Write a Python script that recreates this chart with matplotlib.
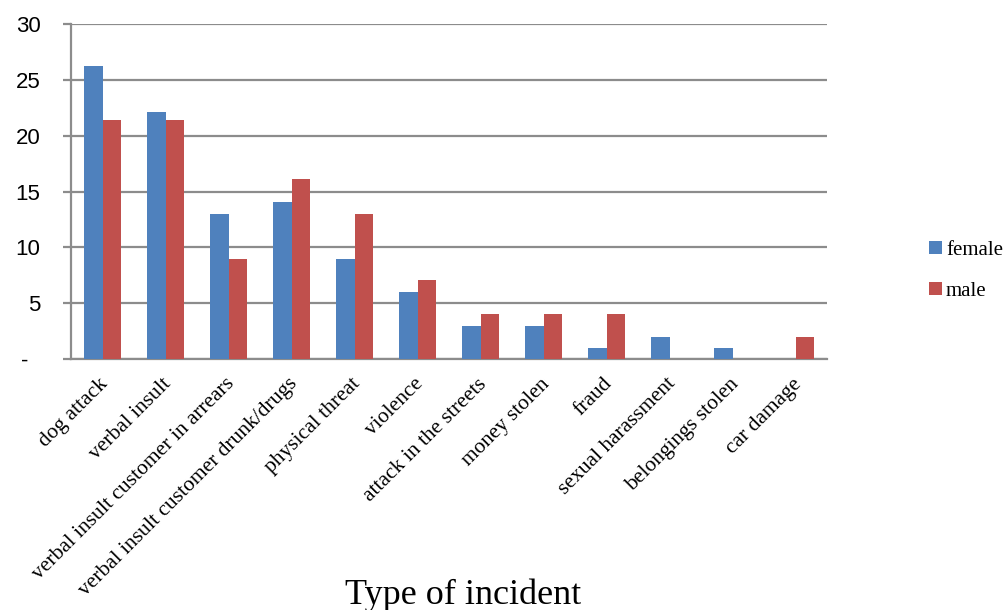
import matplotlib
matplotlib.use("Agg")
import matplotlib.pyplot as plt
import numpy as np

categories = [
    "dog attack",
    "verbal insult",
    "verbal insult customer in arrears",
    "verbal insult customer drunk/drugs",
    "physical threat",
    "violence",
    "attack in the streets",
    "money stolen",
    "fraud",
    "sexual harassment",
    "belongings stolen",
    "car damage",
]
female = [26.2, 22.1, 13.0, 14.1, 9.0, 6.0, 3.0, 3.0, 1.0, 2.0, 1.0, 0.0]
male = [21.4, 21.4, 9.0, 16.1, 13.0, 7.1, 4.0, 4.0, 4.0, 0.0, 0.0, 2.0]
y_ticks = [0, 5, 10, 15, 20, 25, 30]
y_tick_labels = ["-  ", "5", "10", "15", "20", "25", "30"]

BLUE = "#4F81BD"
RED = "#C0504D"
GRID = "#8C8C8C"
SERIF = "Liberation Serif"
SANS = "Liberation Sans"

W, H = 1005, 610
fig = plt.figure(figsize=(W / 100, H / 100), dpi=100)
ax = fig.add_axes([71 / W, 1 - 359 / H, (827 - 71) / W, (359 - 24) / H])

x = np.arange(len(categories))
bw = 0.286
ax.bar(x - bw / 2, female, width=bw, color=BLUE, label="female", zorder=3)
ax.bar(x + bw / 2, male, width=bw, color=RED, label="male", zorder=3)

ax.set_xlim(-0.5, len(categories) - 0.5)
ax.set_ylim(0, 30)
ax.set_yticks(y_ticks)
ax.set_yticklabels(y_tick_labels, fontfamily=SANS, fontsize=16)
ax.yaxis.grid(True, color=GRID, linewidth=1.6, zorder=0)
ax.tick_params(axis="y", length=6, width=1.6, color=GRID, pad=16)

ax.set_xticks(x)
ax.set_xticklabels([])
ax.tick_params(axis="x", length=0)
for xi, lab in zip(x, categories):
    ax.annotate(lab, xy=(xi + 0.05, 0), xycoords="data",
                xytext=(0, -16), textcoords="offset points",
                rotation=45, rotation_mode="anchor", ha="right", va="center",
                fontfamily=SERIF, fontsize=15.5)

for side in ("top", "right"):
    ax.spines[side].set_visible(False)
for side in ("left", "bottom"):
    ax.spines[side].set_color(GRID)
    ax.spines[side].set_linewidth(1.6)

fig.text(463 / W, 1 - 595 / H, "Type of incident", ha="center", va="center",
         fontfamily=SERIF, fontsize=26)

leg = fig.legend(loc="center left", bbox_to_anchor=(921 / W, 1 - 271 / H),
                 frameon=False, prop={"family": SERIF, "size": 15},
                 handlelength=0.6, handleheight=0.6, handletextpad=0.2,
                 labelspacing=1.05, borderaxespad=0)

fig.savefig("out.png", dpi=100)
